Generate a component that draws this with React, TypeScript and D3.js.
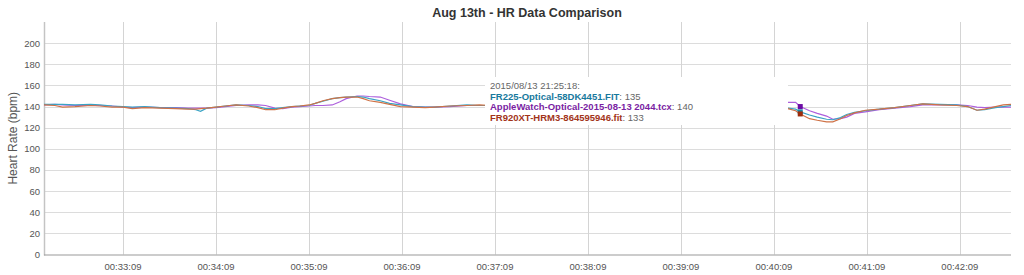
import React from "react";
import * as d3 from "d3";

// elapsed seconds of the activity (00:32:18 = 1938 s)
const times = [
  1938, 1945, 1950, 1958, 1968, 1974, 1982, 1989, 1995, 2003, 2013, 2023, 2031, 2036, 2039, 2043,
  2049, 2055, 2062, 2070, 2076, 2081, 2087, 2092, 2098, 2103, 2109, 2113, 2118, 2124, 2129, 2133,
  2140, 2144, 2148, 2155, 2161, 2168, 2176, 2184, 2190, 2200, 2211, 2219, 2226,
  2418, 2423, 2426, 2432, 2437, 2443, 2447, 2452, 2456, 2461, 2468, 2477, 2487, 2497, 2505, 2516,
  2527, 2534, 2540, 2545, 2552, 2557, 2562,
];

const fr225 = [
  142, 142, 142, 141.5, 142, 141.5, 140.5, 140, 139.5, 140, 139, 138.5, 138, 137, 135.5, 138.5,
  139.5, 140.5, 141.5, 141, 140, 138, 138, 139, 140, 140.5, 141, 143, 145, 147.5, 148.5, 149,
  149.5, 149, 147.5, 145.5, 143, 141.5, 140, 139.5, 139.5, 140.5, 141.5, 141, 141,
  138.5, 137.5, 135, 132, 130, 128, 127.5, 129.5, 132.5, 134.5, 136, 137.5, 139, 141, 142.5, 142,
  141.5, 140, 136.5, 137, 139, 140, 141,
];

const appleWatch = [
  141.5, 142, 141.5, 141, 141, 141, 140.5, 139.5, 139, 139.5, 139, 139, 138.5, 138.5, 138.5, 138.5,
  139, 140, 141, 141.5, 141.5, 141, 138.5, 138, 139.5, 140, 140.5, 141, 141, 141.5, 144.5, 147.5,
  150, 150, 149.5, 149, 146, 142.5, 140, 139.5, 139.5, 140, 141, 141, 141,
  144, 144, 140, 136, 133.5, 131, 128, 128.5, 130, 133.5, 135, 137, 138.5, 140, 141.5, 141.5,
  141.5, 141, 139.5, 139, 139.5, 139.5, 139.5,
];

const fr920xt = [
  141.5, 141, 139.5, 140, 141, 140.5, 139.5, 139.5, 138, 139, 138.5, 138, 137.5, 137.5, 138, 138.5,
  139.5, 140.5, 141.5, 140.5, 139, 137, 137, 138.5, 140, 140.5, 141.5, 143, 145.5, 147.5, 148.5, 149,
  149, 147.5, 145.5, 144, 142, 140, 139.5, 139, 139.5, 140.5, 141, 141.5, 141,
  138, 136, 133, 128.5, 127, 125.5, 125.5, 128.5, 131.5, 134, 136.5, 137.5, 139, 141, 142.5, 141.5,
  141, 140, 136.5, 137.5, 140, 141.5, 142,
];

const yTicks = [0, 20, 40, 60, 80, 100, 120, 140, 160, 180, 200];
const xTickSeconds = [1989, 2049, 2109, 2169, 2229, 2289, 2349, 2409, 2469, 2529];

const seriesNames = [
  "FR225-Optical-58DK4451.FIT",
  "AppleWatch-Optical-2015-08-13 2044.tcx",
  "FR920XT-HRM3-864595946.fit",
];
const hoverTime = 2426;
const hoverLabel = "2015/08/13 21:25:18:";

function fmt(s: number) {
  const h = Math.floor(s / 3600);
  const m = Math.floor((s % 3600) / 60);
  const sec = s % 60;
  const p = (n: number) => String(n).padStart(2, "0");
  return `${p(h)}:${p(m)}:${p(sec)}`;
}

export default function App() {
  const W = 1024, H = 275;
  const left = 44, right = 1011, top = 22, bottom = 254.5;
  const x = d3.scaleLinear().domain([1938, 2562]).range([left, right]);
  const y = d3.scaleLinear().domain([0, 220]).range([bottom, top]);
  const line = d3
    .line<number>()
    .x((_, i) => x(times[i]))
    .y((d) => y(d));

  const series = [
    { name: seriesNames[0], vals: fr225, line: "#3aa3c4", label: "#17799d", marker: "#1b8aa6" },
    { name: seriesNames[1], vals: appleWatch, line: "#ad5fdc", label: "#7a1ea3", marker: "#6c0ca4" },
    { name: seriesNames[2], vals: fr920xt, line: "#cf7246", label: "#a2341a", marker: "#9e2c0c" },
  ];
  const drawOrder = [1, 0, 2];
  const hi = times.indexOf(hoverTime);
  const font = "'Liberation Sans', Arial, sans-serif";

  return (
    <svg
      width={W}
      height={H}
      style={{ position: "absolute", left: 0, top: 0, background: "#fff" }}
      fontFamily={font}
    >
      <text x={527} y={17} textAnchor="middle" fontSize={12.5} fontWeight="bold" fill="#333">
        Aug 13th - HR Data Comparison
      </text>
      {/* grid */}
      {yTicks.filter((t) => t > 0).map((t) => (
        <line key={"gy" + t} x1={left} x2={right} y1={Math.round(y(t)) + 0.5} y2={Math.round(y(t)) + 0.5} stroke="#dcdcdc" />
      ))}
      {xTickSeconds.map((t) => (
        <line key={"gx" + t} x1={Math.round(x(t)) + 0.5} x2={Math.round(x(t)) + 0.5} y1={top} y2={bottom} stroke="#d4d4d4" />
      ))}
      {/* axes */}
      <line x1={left + 0.5} x2={left + 0.5} y1={top} y2={bottom + 1} stroke="#c4c4c4" strokeWidth={1.5} />
      <line x1={left} x2={right} y1={bottom + 0.5} y2={bottom + 0.5} stroke="#9a9a9a" strokeWidth={1.2} />
      {yTicks.map((t) => (
        <text key={"yl" + t} x={40} y={y(t) + 3.5} textAnchor="end" fontSize={9.5} fill="#555">
          {t}
        </text>
      ))}
      {xTickSeconds.map((t) => (
        <text key={"xl" + t} x={x(t)} y={270} textAnchor="middle" fontSize={9.5} fill="#555">
          {fmt(t)}
        </text>
      ))}
      <text
        transform={`translate(17,${(top + bottom) / 2}) rotate(-90)`}
        textAnchor="middle"
        fontSize={12}
        fill="#555"
      >
        Heart Rate (bpm)
      </text>
      {/* lines */}
      {drawOrder.map((i) => (
        <path key={"l" + i} d={line(series[i].vals) || ""} fill="none" stroke={series[i].line} strokeWidth={1.2} />
      ))}
      {/* hover markers */}
      {series.map((s, i) => (
        <rect key={"m" + i} x={x(hoverTime) - 2.5} y={y(s.vals[hi]) - 2.5} width={5} height={5} fill={s.marker} />
      ))}
      {/* tooltip */}
      <rect x={485} y={77} width={303} height={48} fill="#fff" />
      <text x={490} y={88.5} fontSize={9.5} fill="#666">
        {hoverLabel}
      </text>
      {series.map((s, i) => (
        <text key={"tt" + i} x={490} y={99.5 + i * 10.9} fontSize={9.5} fill="#666">
          <tspan fontWeight="bold" fill={s.label}>
            {s.name}
          </tspan>
          <tspan>: {Math.round(s.vals[hi])}</tspan>
        </text>
      ))}
    </svg>
  );
}
